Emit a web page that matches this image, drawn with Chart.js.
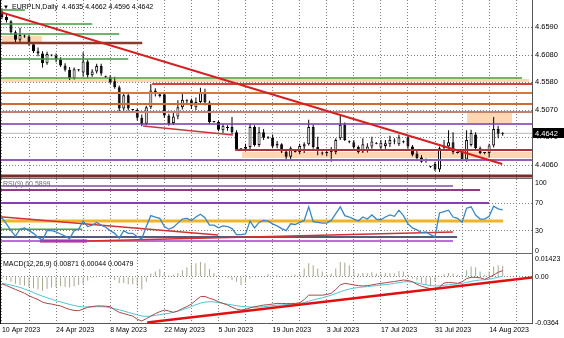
<!DOCTYPE html>
<html>
<head>
<meta charset="utf-8">
<script src="https://cdn.jsdelivr.net/npm/chart.js@4.4.0/dist/chart.umd.min.js"></script>
<style>
  html, body { margin: 0; padding: 0; background: #fff; }
  #wrap { position: relative; width: 564px; height: 338px; overflow: hidden; background: #fff; }
  #wrap canvas { position: absolute; left: 0; }
  .sep { position: absolute; left: 0; width: 533px; height: 1px; background: #6a6a6a; }
  #leftEdge { position: absolute; left: 0; top: 0; width: 1px; height: 324px; background: #000; }
</style>
</head>
<body>
<div id="wrap">
  <canvas id="priceChart" width="564" height="178" style="top:0"></canvas>
  <canvas id="rsiChart" width="564" height="78" style="top:179px"></canvas>
  <canvas id="macdChart" width="564" height="84" style="top:254px"></canvas>
  <div class="sep" style="top:178px"></div>
  <div class="sep" style="top:253px"></div>
  <div id="leftEdge"></div>
</div>
<script>
// EURPLN daily bars, 10 Apr 2023 .. 17 Aug 2023 (broker feed includes short Sunday bars)
const opens = [
  4.6880,4.6780,4.6700,4.6500,4.6360,4.6440,4.6420,4.6280,4.6150,4.6110,
  4.5930,4.6080,4.6070,4.6000,4.5890,4.5810,4.5650,4.5800,4.5760,4.5960,
  4.5710,4.5780,4.5880,4.5690,4.5680,4.5600,4.5490,4.5100,4.5340,4.5080,
  4.5070,4.4930,4.4820,4.5120,4.5430,4.5330,4.5360,4.4970,4.4830,4.4950,
  4.5120,4.5230,4.5250,4.5120,4.5220,4.5400,4.5210,4.4850,4.4850,4.4700,
  4.4760,4.4760,4.4660,4.4360,4.4360,4.4390,4.4760,4.4430,4.4660,4.4570,
  4.4560,4.4420,4.4440,4.4310,4.4210,4.4310,4.4300,4.4400,4.4440,4.4760,
  4.4390,4.4270,4.4280,4.4300,4.4300,4.4550,4.4800,4.4490,4.4480,4.4390,
  4.4310,4.4320,4.4400,4.4460,4.4380,4.4410,4.4440,4.4490,4.4440,4.4490,
  4.4570,4.4400,4.4270,4.4200,4.4140,4.4030,4.4080,4.3980,4.4370,4.4400,
  4.4480,4.4290,4.4300,4.4160,4.4430,4.4620,4.4370,4.4280,4.4280,4.4420,
  4.4720,4.4635
];
const highs = [
  4.6940,4.6830,4.6720,4.6530,4.6580,4.6460,4.6450,4.6310,4.6220,4.6150,
  4.6140,4.6090,4.6110,4.6040,4.5930,4.5860,4.5850,4.5820,4.6130,4.6000,
  4.5820,4.5920,4.5920,4.5700,4.5710,4.5680,4.5520,4.5370,4.5380,4.5090,
  4.5100,4.4990,4.5150,4.5548,4.5470,4.5380,4.5400,4.5000,4.5050,4.5250,
  4.5400,4.5270,4.5280,4.5300,4.5480,4.5460,4.5240,4.4860,4.4880,4.4810,
  4.4790,4.4940,4.4700,4.4370,4.4450,4.4820,4.4790,4.4760,4.4720,4.4590,
  4.4620,4.4500,4.4460,4.4350,4.4400,4.4330,4.4450,4.4480,4.4890,4.4800,
  4.4580,4.4310,4.4340,4.4390,4.4550,4.4980,4.4840,4.4510,4.4520,4.4420,
  4.4550,4.4460,4.4580,4.4480,4.4520,4.4520,4.4600,4.4550,4.4620,4.4510,
  4.4600,4.4430,4.4320,4.4240,4.4180,4.4040,4.4120,4.4400,4.4520,4.4700,
  4.4660,4.4310,4.4340,4.4700,4.4710,4.4660,4.4400,4.4300,4.4450,4.4940,
  4.4780,4.4662
];
const lows = [
  4.6740,4.6680,4.6460,4.6320,4.6300,4.6400,4.6250,4.6120,4.6060,4.5850,
  4.5900,4.6060,4.5950,4.5860,4.5780,4.5620,4.5630,4.5780,4.5680,4.5660,
  4.5680,4.5740,4.5700,4.5660,4.5550,4.5460,4.5040,4.5060,4.5060,4.5060,
  4.4880,4.4770,4.4790,4.5090,4.5320,4.5300,4.4930,4.4780,4.4800,4.4900,
  4.5080,4.5180,4.5090,4.5070,4.5180,4.5160,4.4820,4.4840,4.4680,4.4650,
  4.4690,4.4630,4.4320,4.4330,4.4310,4.4350,4.4400,4.4390,4.4520,4.4540,
  4.4370,4.4370,4.4280,4.4150,4.4170,4.4290,4.4260,4.4280,4.4420,4.4360,
  4.4240,4.4240,4.4220,4.4120,4.4260,4.4520,4.4500,4.4460,4.4360,4.4270,
  4.4280,4.4290,4.4360,4.4440,4.4340,4.4360,4.4390,4.4440,4.4410,4.4460,
  4.4360,4.4220,4.4170,4.4100,4.4100,4.4010,4.3950,4.3930,4.4320,4.4360,
  4.4260,4.4270,4.4130,4.4120,4.4400,4.4340,4.4260,4.4260,4.4200,4.4380,
  4.4550,4.4596
];
const closes = [
  4.6780,4.6720,4.6500,4.6360,4.6450,4.6420,4.6280,4.6150,4.6110,4.5930,
  4.6100,4.6070,4.6000,4.5890,4.5810,4.5650,4.5820,4.5800,4.5960,4.5710,
  4.5780,4.5880,4.5740,4.5680,4.5580,4.5490,4.5100,4.5340,4.5100,4.5070,
  4.4930,4.4810,4.5120,4.5430,4.5360,4.5360,4.4970,4.4820,4.4950,4.5120,
  4.5260,4.5250,4.5150,4.5220,4.5400,4.5210,4.4850,4.4850,4.4710,4.4780,
  4.4740,4.4660,4.4350,4.4350,4.4390,4.4760,4.4430,4.4660,4.4560,4.4560,
  4.4400,4.4450,4.4310,4.4210,4.4370,4.4300,4.4410,4.4440,4.4760,4.4390,
  4.4350,4.4290,4.4300,4.4300,4.4520,4.4800,4.4520,4.4480,4.4390,4.4300,
  4.4440,4.4400,4.4490,4.4450,4.4470,4.4460,4.4520,4.4500,4.4570,4.4480,
  4.4400,4.4250,4.4190,4.4120,4.4150,4.4030,4.3980,4.4370,4.4380,4.4480,
  4.4300,4.4280,4.4160,4.4520,4.4650,4.4370,4.4280,4.4280,4.4420,4.4720,
  4.4635,4.4642
];

// RSI(9)
const rsiValues = [
  49,40,30,22,32,34,30,26,20,16,
  30,30,28,25,22,18,30,32,44,36,
  38,42,38,35,30,26,19,30,26,26,
  21,18,36,52,50,48,36,32,35,41,
  47,48,45,50,54,49,38,38,34,37,
  36,33,24,24,25,44,34,42,45,44,
  40,37,33,30,40,39,42,45,65,43,
  42,41,41,45,55,65,52,50,47,44,
  50,47,53,47,46,50,53,51,60,52,
  40,34,31,27,28,24,21,56,58,60,
  50,48,42,63,65,53,47,47,51,66,
  62,60.5899
];

// MACD(12,26,9): histogram, main line, signal line
const macdHist = [
  -0.0015,-0.0025,-0.0040,-0.0055,-0.0065,-0.0070,-0.0080,-0.0090,-0.0100,-0.0110,
  -0.0095,-0.0085,-0.0080,-0.0075,-0.0080,-0.0085,-0.0075,-0.0065,-0.0055,-0.0030,
  -0.0010,0.0005,-0.0005,0.0005,-0.0010,-0.0025,-0.0050,-0.0050,-0.0060,-0.0060,
  -0.0075,-0.0100,-0.0040,0.0025,0.0040,0.0060,0.0030,0.0010,0.0015,0.0030,
  0.0050,0.0075,0.0095,0.0105,0.0115,0.0105,0.0060,0.0030,0.0010,0.0005,
  -0.0010,-0.0025,-0.0040,-0.0065,-0.0045,-0.0015,-0.0005,0.0005,0.0005,0.0020,
  0.0015,0.0010,0.0005,-0.0005,0.0005,0.0015,0.0025,0.0065,0.0105,0.0090,
  0.0065,0.0040,0.0020,0.0025,0.0065,0.0115,0.0110,0.0090,0.0055,0.0025,
  0.0030,0.0025,0.0035,0.0025,0.0025,0.0030,0.0030,0.0025,0.0045,0.0040,
  0.0015,-0.0015,-0.0030,-0.0050,-0.0065,-0.0075,-0.0040,0.0005,0.0020,0.0030,
  0.0025,0.0015,0.0015,0.0050,0.0080,0.0075,0.0040,0.0015,0.0040,0.0080,
  0.0090,0.00871
];
const macdMain = [
  -0.0055,-0.0070,-0.0085,-0.0100,-0.0115,-0.0130,-0.0150,-0.0165,-0.0180,-0.0200,
  -0.0210,-0.0215,-0.0223,-0.0230,-0.0245,-0.0257,-0.0265,-0.0267,-0.0255,-0.0240,
  -0.0235,-0.0230,-0.0230,-0.0232,-0.0236,-0.0260,-0.0280,-0.0290,-0.0300,-0.0310,
  -0.0335,-0.0348,-0.0330,-0.0310,-0.0290,-0.0275,-0.0262,-0.0270,-0.0280,-0.0270,
  -0.0250,-0.0235,-0.0215,-0.0185,-0.0157,-0.0155,-0.0170,-0.0180,-0.0197,-0.0210,
  -0.0223,-0.0240,-0.0255,-0.0262,-0.0257,-0.0245,-0.0236,-0.0230,-0.0223,-0.0220,
  -0.0215,-0.0210,-0.0210,-0.0212,-0.0210,-0.0210,-0.0205,-0.0180,-0.0145,-0.0145,
  -0.0145,-0.0145,-0.0140,-0.0130,-0.0100,-0.0065,-0.0052,-0.0058,-0.0065,-0.0070,
  -0.0073,-0.0070,-0.0065,-0.0058,-0.0052,-0.0048,-0.0042,-0.0038,-0.0032,-0.0026,
  -0.0030,-0.0040,-0.0060,-0.0075,-0.0085,-0.0095,-0.0100,-0.0080,-0.0050,-0.0045,
  -0.0048,-0.0052,-0.0040,-0.0015,-0.0005,-0.0005,-0.0008,-0.0020,-0.0005,0.0013,
  0.0035,0.00479
];
const macdSignal = [
  -0.0052,-0.0058,-0.0066,-0.0075,-0.0084,-0.0097,-0.0110,-0.0125,-0.0140,-0.0153,
  -0.0165,-0.0177,-0.0190,-0.0198,-0.0208,-0.0218,-0.0226,-0.0234,-0.0237,-0.0238,
  -0.0237,-0.0236,-0.0236,-0.0238,-0.0244,-0.0252,-0.0260,-0.0270,-0.0280,-0.0290,
  -0.0300,-0.0309,-0.0312,-0.0310,-0.0304,-0.0298,-0.0292,-0.0288,-0.0280,-0.0270,
  -0.0260,-0.0248,-0.0235,-0.0220,-0.0208,-0.0200,-0.0197,-0.0198,-0.0203,-0.0210,
  -0.0216,-0.0222,-0.0228,-0.0233,-0.0236,-0.0238,-0.0240,-0.0239,-0.0236,-0.0232,
  -0.0228,-0.0224,-0.0222,-0.0220,-0.0218,-0.0215,-0.0210,-0.0203,-0.0193,-0.0183,
  -0.0174,-0.0166,-0.0156,-0.0145,-0.0132,-0.0118,-0.0107,-0.0097,-0.0090,-0.0085,
  -0.0081,-0.0078,-0.0074,-0.0070,-0.0066,-0.0062,-0.0058,-0.0053,-0.0047,-0.0041,
  -0.0039,-0.0042,-0.0049,-0.0057,-0.0064,-0.0070,-0.0073,-0.0072,-0.0068,-0.0063,
  -0.0060,-0.0056,-0.0052,-0.0045,-0.0037,-0.0030,-0.0026,-0.0024,-0.0020,-0.0013,
  -0.0004,0.00044
];

// axis labels
const dateLabels = ['10 Apr 2023','24 Apr 2023','8 May 2023','22 May 2023','5 Jun 2023',
  '19 Jun 2023','3 Jul 2023','17 Jul 2023','31 Jul 2023','14 Aug 2023'];
const priceTicks = [4.6590, 4.6080, 4.5580, 4.5070, 4.4570, 4.4060];
const rsiTicks = [100, 70, 30, 0];
const macdTicks = [0.01423, 0, -0.0364];
const macdTickText = ['0.01423', '0.00', '-0.0364'];

// horizontal levels on the price panel: price, first bar, last bar
const levelPrice = [4.6908, 4.6651, 4.6467, 4.6302, 4.6008, 4.5659, 4.5549, 4.5383, 4.5181, 4.5034, 4.4814, 4.4336, 4.4152, 4.3858];
const levelFrom  = [-0.43, -0.43, -0.43, -0.43, -0.43, -0.43, 33.3, -0.43, -0.43, -0.43, -0.43, 51.7, -0.43, -0.43];
const levelTo    = [5.1, 20.0, 26.0, 31.1, 28.0, 115.3, 117.5, 117.5, 117.5, 117.5, 117.5, 117.5, 117.5, 117.5];
// zones: first bar, last bar, top, bottom
const zoneFrom   = [0, -0.43, 103.1, 53.2];
const zoneTo     = [8.9, 116.9, 113.1, 117.5];
const zoneTop    = [4.6430, 4.5640, 4.5016, 4.4299];
const zoneBottom = [4.6302, 4.5585, 4.4832, 4.4189];
// trend lines: [bar, price] pairs
const priceTrends = [
  [[-0.43, 4.6871], [110.9, 4.4079]],
  [[31.3, 4.4777], [51.2, 4.4612]]
];

// RSI panel levels and trend lines
const rsiLevelValue = [95.6, 89.7, 70.6, 44, 32, 20.6, 14.7, 14.7];
const rsiLevelFrom  = [-0.43, -0.43, -0.43, -0.43, -0.43, -0.43, -0.43, 8.4];
const rsiLevelTo    = [100, 106, 108, 111.1, 17.8, 100.9, 100, 18.9];
const rsiTrends = [
  [[-0.43, 50.4], [47.9, 23.5]],
  [[18.9, 14.7], [100, 27.9]]
];
const macdTrend = [[32.2, -0.0360], [117.5, -0.0006]];

const X_MIN = -0.43, X_MAX = 117.5;
const GRID = '#7f7f7f';
const FONT = '"Liberation Sans", Arial, sans-serif';
const PEACH = '#fcd7b2';
const last = closes.length - 1;

Chart.defaults.font.family = FONT;

const levelStyle = [
  ['#3f9b3f', 1.5], ['#3f9b3f', 1.5], ['#3f9b3f', 1.5], ['#8b3a2a', 2.5], ['#3f9b3f', 1.5],
  ['#4a9a3a', 1.5], ['#d5403a', 2], ['#d8743c', 2], ['#d0683a', 2], ['#c88068', 2],
  ['#7b35a8', 1.5], ['#a8353a', 2], ['#9a5ab8', 2], ['#7a2c2c', 3]
];
const rsiLevelStyle = [
  ['#9a7cbc', 2], ['#8e3a86', 2], ['#8a3cb0', 2], ['#f0b429', 3],
  ['#4f9f4f', 1.5], ['#1c2450', 1.5], ['#a040c8', 1.5], ['#c0206a', 3]
];

const pts = arr => arr.map((v, i) => ({ x: i, y: v }));

function lineSet(data, color, width, order) {
  return { type: 'line', data, borderColor: color, borderWidth: width,
    pointRadius: 0, fill: false, tension: 0, order };
}

function xAxis(showLabels, extraHeight) {
  return {
    type: 'linear', min: X_MIN, max: X_MAX, offset: false, bounds: 'data',
    afterBuildTicks: s => {
      const t = [];
      for (let i = 0; i <= X_MAX; i += 6) t.push({ value: i });
      s.ticks = t;
    },
    afterFit: s => {
      s.height = showLabels ? 15 : extraHeight;
      s.paddingLeft = 0; s.paddingRight = 0;
    },
    grid: { color: GRID, lineWidth: 1, drawTicks: false, offset: false },
    border: { display: showLabels, color: '#555', width: 1, dash: [1, 2] },
    ticks: {
      display: showLabels, autoSkip: false, maxRotation: 0, align: 'start',
      padding: 3, color: '#000', font: { size: 7 },
      callback: v => (v % 12 === 0 && dateLabels[v / 12]) ? dateLabels[v / 12] : ''
    }
  };
}

function yAxis(min, max, values, fmt, gridOn, size) {
  return {
    position: 'right', min, max, bounds: 'data', beginAtZero: false,
    afterBuildTicks: s => { s.ticks = values.map(v => ({ value: v })); },
    afterFit: s => { s.width = 32; s.paddingTop = 0; s.paddingBottom = 0; },
    grid: {
      drawTicks: false,
      color: c => (c.tick && gridOn(c.tick.value)) ? GRID : 'rgba(0,0,0,0)'
    },
    border: { display: true, color: '#555', width: 1, dash: [1, 2] },
    ticks: { autoSkip: false, padding: 3, color: '#000', font: { size }, callback: fmt }
  };
}

function textPlugin(items) {
  return {
    id: 'panelText',
    afterDraw(chart) {
      const c = chart.ctx;
      c.save();
      c.textBaseline = 'middle';
      items.forEach(t => {
        c.font = t.size + 'px ' + FONT;
        c.fillStyle = t.color;
        c.fillText(t.text, t.x, t.y);
      });
      c.restore();
    }
  };
}

const baseOptions = {
  responsive: false, animation: false, devicePixelRatio: 1,
  layout: { padding: 0 },
  plugins: { legend: { display: false }, tooltip: { enabled: false } }
};

// ---------- price panel ----------
const priceSets = [];
zoneTop.forEach((top, k) => {
  priceSets.push({ type: 'line', data: [{ x: zoneFrom[k], y: top }, { x: zoneTo[k], y: top }],
    borderColor: 'rgba(0,0,0,0)', borderWidth: 0, pointRadius: 0, tension: 0,
    backgroundColor: PEACH, fill: { value: zoneBottom[k] }, order: 20 });
});
priceSets.push(lineSet([{ x: X_MIN, y: closes[last] }, { x: X_MAX, y: closes[last] }], '#b8b8b8', 1, 15));
priceSets.push({
  type: 'bar', data: closes.map((c, i) => ({ x: i, y: [lows[i], highs[i]] })),
  backgroundColor: '#000', borderWidth: 0, barThickness: 1, grouped: false,
  minBarLength: 1, inflateAmount: 0, order: 6
});
priceSets.push({
  type: 'bar', data: closes.map((c, i) => ({ x: i, y: [opens[i], c] })),
  backgroundColor: closes.map((c, i) => c > opens[i] ? '#fff' : '#000'),
  borderColor: '#000', borderWidth: 1, borderSkipped: false, barThickness: 3,
  grouped: false, minBarLength: 1, inflateAmount: 0, order: 5
});
levelPrice.forEach((p, k) => {
  priceSets.push(lineSet([{ x: levelFrom[k], y: p }, { x: levelTo[k], y: p }],
    levelStyle[k][0], levelStyle[k][1], 3));
});
priceTrends.forEach((t, k) => {
  priceSets.push(lineSet(t.map(q => ({ x: q[0], y: q[1] })), k === 0 ? '#d42020' : '#c83838', k === 0 ? 2 : 1.5, 2));
});

const lastPriceTag = {
  id: 'lastPriceTag',
  afterDraw(chart) {
    const y = chart.scales.y.getPixelForValue(closes[last]);
    const c = chart.ctx;
    c.save();
    c.fillStyle = '#000';
    c.fillRect(chart.chartArea.right + 1, Math.round(y) - 5, 31, 10);
    c.fillStyle = '#fff';
    c.font = '7.5px ' + FONT;
    c.textBaseline = 'middle';
    c.fillText(closes[last].toFixed(4), chart.chartArea.right + 3, Math.round(y) + 0.5);
    c.restore();
  }
};

const title = 'EURPLN,Daily  ' + [opens[last], highs[last], lows[last], closes[last]].map(v => v.toFixed(4)).join(' ');

new Chart(document.getElementById('priceChart'), {
  type: 'bar',
  data: { datasets: priceSets },
  options: Object.assign({}, baseOptions, {
    scales: {
      x: xAxis(false, 0),
      y: yAxis(4.38216, 4.70915, priceTicks, v => v.toFixed(4), () => true, 7.5)
    }
  }),
  plugins: [lastPriceTag, textPlugin([
    { text: '\u25BC', x: 3, y: 7, size: 6, color: '#000' },
    { text: title, x: 12, y: 7, size: 7, color: '#000' }
  ])]
});

// ---------- RSI panel ----------
const rsiSets = [lineSet(pts(rsiValues), '#3b86c6', 1.3, 1)];
rsiLevelValue.forEach((v, k) => {
  rsiSets.push(lineSet([{ x: rsiLevelFrom[k], y: v }, { x: rsiLevelTo[k], y: v }],
    rsiLevelStyle[k][0], rsiLevelStyle[k][1], 4));
});
rsiTrends.forEach(t => {
  rsiSets.push(lineSet(t.map(q => ({ x: q[0], y: q[1] })), '#d43030', 1.5, 3));
});

new Chart(document.getElementById('rsiChart'), {
  type: 'line',
  data: { datasets: rsiSets },
  options: Object.assign({}, baseOptions, {
    scales: {
      x: xAxis(false, 4),
      y: yAxis(-2.94, 105.9, rsiTicks, v => String(v), v => v === 70 || v === 30, 7)
    }
  }),
  plugins: [textPlugin([
    { text: 'RSI(9) ' + rsiValues[last].toFixed(4), x: 3, y: 5, size: 7, color: '#6a6a7a' }
  ])]
});

// ---------- MACD panel ----------
const macdSets = [
  { type: 'bar', data: pts(macdHist), backgroundColor: '#a9a591', borderWidth: 0,
    barThickness: 1, grouped: false, inflateAmount: 0, order: 5 },
  lineSet(pts(macdSignal), '#4fc3d3', 1, 3),
  lineSet(pts(macdMain), '#a4484a', 1, 2),
  lineSet(macdTrend.map(q => ({ x: q[0], y: q[1] })), '#e01010', 2.5, 1)
];

new Chart(document.getElementById('macdChart'), {
  type: 'bar',
  data: { datasets: macdSets },
  options: Object.assign({}, baseOptions, {
    scales: {
      x: xAxis(true, 15),
      y: yAxis(-0.0364, 0.01785, macdTicks, (v, i) => macdTickText[i], v => v === 0, 7)
    }
  }),
  plugins: [textPlugin([
    { text: 'MACD(12,26,9) ' + [macdHist[last], macdSignal[last], macdMain[last]].map(v => v.toFixed(5)).join(' '),
      x: 3, y: 10, size: 7, color: '#000' }
  ])]
});
</script>
</body>
</html>
